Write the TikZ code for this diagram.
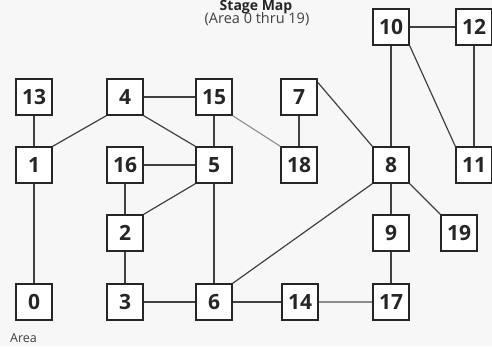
\documentclass[tikz,border=0pt]{standalone}
\usepackage{fontspec}
\setmainfont{Open Sans}
\begin{document}
\begin{tikzpicture}[x=1pt,y=-1pt,
  area/.style={draw=black!85, line width=1.4pt, fill=white, minimum size=36pt, inner sep=0pt,
    font=\fontsize{21}{21}\selectfont\bfseries, text=black!85},
  link/.style={draw=black!75, line width=1.2pt},
  faint/.style={draw=black!45, line width=1.1pt}]
\fill[black!3] (0,0) rectangle (492,346);
\useasboundingbox (0,0) rectangle (492,346);
\node[font=\fontsize{14}{14}\selectfont\bfseries, text=black!85, anchor=north, inner sep=0pt] (title) at (256,0.5) {Stage Map};
\node[font=\fontsize{14.5}{14.5}\selectfont, text=black!75, inner sep=0pt] (sub) at (257,19.5) {(Area 0 thru 19)};
\node[font=\fontsize{12.5}{12.5}\selectfont, text=black!75, anchor=west, inner sep=0pt] (lbl) at (10,338) {Area};
% row 0
\node[area] (n10) at (391,27) {10};
\node[area] (n12) at (474,27) {12};
% row 1
\node[area] (n13) at (34,97) {13};
\node[area] (n4) at (125,97) {4};
\node[area] (n15) at (214,97) {15};
\node[area] (n7) at (299,97) {7};
% row 2
\node[area] (n1) at (34,165) {1};
\node[area] (n16) at (125,165) {16};
\node[area] (n5) at (214,165) {5};
\node[area] (n18) at (299,165) {18};
\node[area] (n8) at (391,165) {8};
\node[area] (n11) at (474,165) {11};
% row 3
\node[area] (n2) at (125,233) {2};
\node[area] (n9) at (391,233) {9};
\node[area] (n19) at (459,233) {19};
% row 4
\node[area] (n0) at (34,302) {0};
\node[area] (n3) at (125,302) {3};
\node[area] (n6) at (214,302) {6};
\node[area] (n14) at (300,302) {14};
\node[area] (n17) at (391,302) {17};
% connectors
\draw[link] (n13) -- (n1);
\draw[link] (n1.north east) -- (n4.south west);
\draw[link] (n4) -- (n15);
\draw[link] (n4.south east) -- (n5.north west);
\draw[link] (n15) -- (n5);
\draw[faint] (n15.south east) -- (n18.north west);
\draw[link] (n16) -- (n5);
\draw[link] (n16) -- (n2);
\draw[link] (n2.north east) -- (n5.south west);
\draw[link] (n2) -- (n3);
\draw[link] (n5) -- (n6);
\draw[link] (n1) -- (n0);
\draw[link] (n3) -- (n6);
\draw[link] (n6) -- (n14);
\draw[faint] (n14) -- (n17);
\draw[link] (n6.north east) -- (n8.south west);
\draw[link] (n7) -- (n18);
\draw[link] ([yshift=-4pt]n7.north east) -- (n8.north west);
\draw[link] (n10) -- (n12);
\draw[link] (n10) -- (n8);
\draw[link] (n10.south east) -- (n11.north west);
\draw[link] (n12) -- (n11);
\draw[link] (n8) -- (n9);
\draw[link] (n8.south east) -- (n19.north west);
\draw[link] (n9) -- (n17);
\end{tikzpicture}
\end{document}
